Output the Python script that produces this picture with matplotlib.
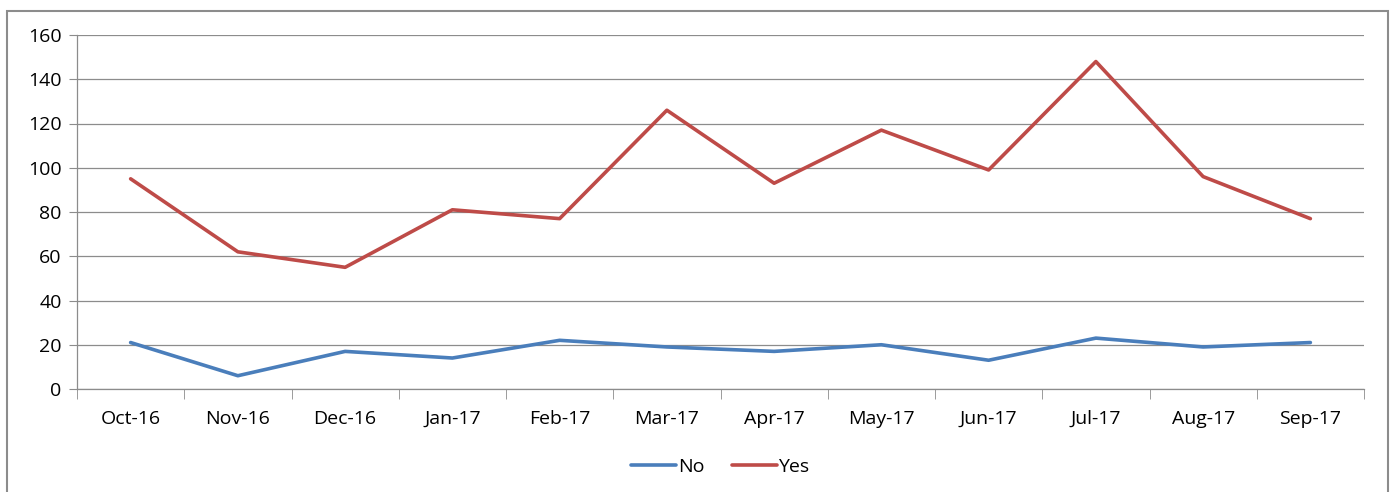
import numpy as np
import matplotlib.pyplot as plt
from matplotlib.patches import Rectangle

months = ['Oct-16', 'Nov-16', 'Dec-16', 'Jan-17', 'Feb-17', 'Mar-17',
          'Apr-17', 'May-17', 'Jun-17', 'Jul-17', 'Aug-17', 'Sep-17']
no_vals = [21, 6, 17, 14, 22, 19, 17, 20, 13, 23, 19, 21]
yes_vals = [95, 62, 55, 81, 77, 126, 93, 117, 99, 148, 96, 77]

plt.rcParams['font.family'] = ['Open Sans', 'DejaVu Sans']
grey = '#8c8c8c'
fs = 14

fig = plt.figure(figsize=(13.92, 4.92), dpi=100)
ax = fig.add_axes([77/1392, 1 - 389/492, (1364-77)/1392, (389-35)/492])

x = np.arange(len(months))
ax.plot(x, no_vals, color='#4A7EBB', lw=2.6, label='No', solid_capstyle='round')
ax.plot(x, yes_vals, color='#BE4B48', lw=2.6, label='Yes', solid_capstyle='round')

ax.set_xlim(-0.5, len(months) - 0.5)
ax.set_ylim(0, 160)
ax.set_yticks(range(0, 161, 20))
ax.yaxis.grid(True, color=grey, lw=0.9)
ax.set_axisbelow(True)

# category labels centered, tick marks between categories
ax.set_xticks(x)
ax.set_xticklabels(months, fontsize=fs)
ax.set_xticks(np.arange(-0.5, len(months)), minor=True)
ax.tick_params(axis='x', which='major', length=0, pad=15)
ax.tick_params(axis='x', which='minor', length=7, color=grey, direction='out')
ax.tick_params(axis='y', length=6, color=grey, labelsize=fs, pad=5)

for s in ['top', 'right']:
    ax.spines[s].set_visible(False)
for s in ['left', 'bottom']:
    ax.spines[s].set_color(grey)
    ax.spines[s].set_linewidth(0.9)

ax.legend(loc='center', bbox_to_anchor=(0.5, -0.22), ncol=2, frameon=False,
          fontsize=fs, handlelength=2.3, handletextpad=0.1, columnspacing=1.4)

fig.patches.append(Rectangle((7/1392, -0.05), (1388-7)/1392, 1.05 - 11/492,
                             transform=fig.transFigure, fill=False,
                             edgecolor=grey, lw=1.5))

fig.savefig('out.png', dpi=100)
